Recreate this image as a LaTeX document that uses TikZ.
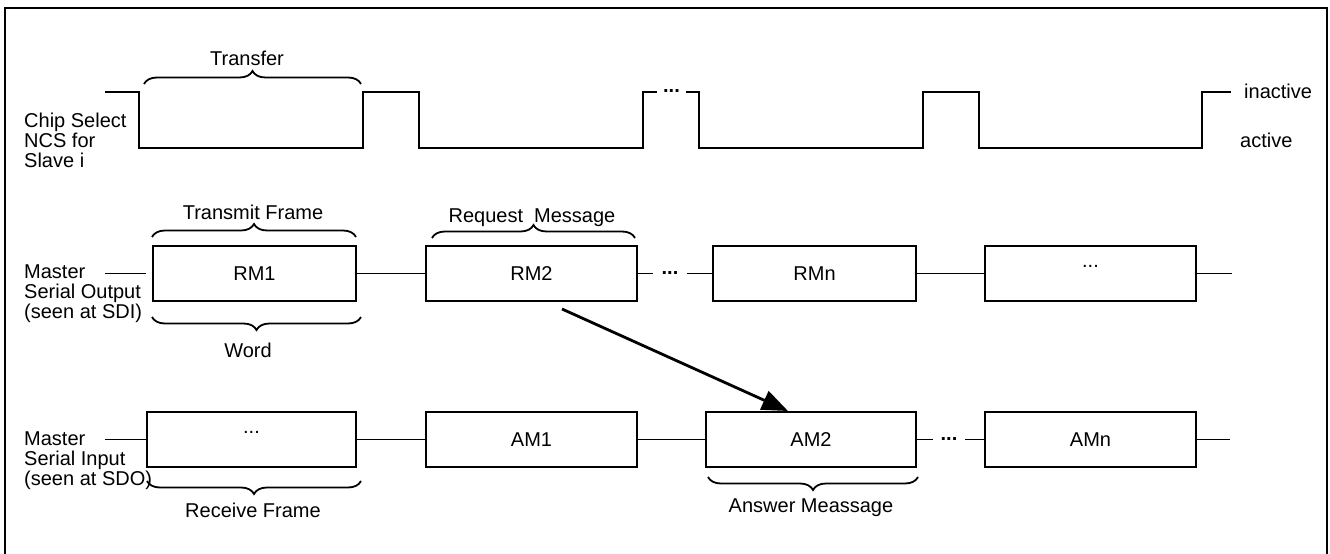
\documentclass[tikz,border=0pt]{standalone}
\usepackage{fontspec}
\setmainfont{Liberation Sans}
\usetikzlibrary{decorations.pathreplacing,arrows.meta}
\begin{document}
\begin{tikzpicture}[x=1bp,y=-1bp,
  every node/.style={font=\fontsize{20bp}{20bp}\selectfont, inner sep=0pt},
  sig/.style={line width=1.9bp},
  conn/.style={line width=1.8bp},
  msgbox/.style={draw, line width=2bp, minimum height=55bp, text height=14bp, text depth=0bp, anchor=center},
  brc/.style={decorate, decoration={brace, amplitude=13bp}, line width=1.8bp},
  brcdown/.style={decorate, decoration={brace, amplitude=13bp, mirror}, line width=1.8bp},
  dotsnode/.style={font=\fontsize{20bp}{20bp}\selectfont\bfseries},
  lbl/.style={anchor=base}
]
\useasboundingbox (0,0) rectangle (1330,554);
% frame
\draw[line width=2bp] (5,560) -- (5,8) -- (1327,8) -- (1327,560);

% ---- chip select ----
\coordinate (cs0) at (105,92);
\coordinate (cs1) at (1231,92);
\node[dotsnode, minimum width=29bp] (csd) at (671.5,91) {...};
\draw[sig] (cs0) -- (139,92) -- (139,148) -- (363,148) -- (363,92) -- (419,92) -- (419,148)
  -- (643,148) -- (643,92) -- (csd.west |- cs0);
\draw[sig] (csd.east |- cs0) -- (699,92) -- (699,148) -- (923,148) -- (923,92) -- (979,92) -- (979,148)
  -- (1202,148) -- (1202,92) -- (cs1);
\node[align=left, anchor=base west] (cslbl) at (24,168) {Chip Select\\NCS for\\Slave i};
\node[anchor=base west] (inact) at (1244,99) {inactive};
\node[anchor=base west] (act) at (1240,148) {active};
\draw[brc] (144,84) -- (361,84);
\node[lbl] (transfer) at (247,66) {Transfer};

% ---- master serial output ----
\node[msgbox, minimum width=203bp] (RM1) at (254.5,273.5) {RM1};
\node[msgbox, minimum width=211bp] (RM2) at (531.5,273.5) {RM2};
\node[msgbox, minimum width=203bp] (RMn) at (814.5,273.5) {RMn};
\node[msgbox, minimum width=211bp] (RMx) at (1090.5,273.5) {\raisebox{13bp}{...}};
\node[dotsnode, minimum width=34bp] (d1) at (670,273.5) {...};
\coordinate (o0) at (105,273.5);
\coordinate (o1) at (1232,273.5);
\draw[conn] (o0) -- ([xshift=-6bp]RM1.west);
\draw[conn] (RM1.east) -- (RM2.west);
\draw[conn] (RM2.east) -- (d1.west);
\draw[conn] (d1.east) -- (RMn.west);
\draw[conn] (RMn.east) -- (RMx.west);
\draw[conn] (RMx.east) -- (o1);
\node[align=left, anchor=base west] (molbl) at (24,318) {Master\\Serial Output\\(seen at SDI)};
\draw[brc] (152,237) -- (356,237);
\node[lbl] (txf) at (253,220) {Transmit Frame};
\draw[brc] (432,238) -- (635,238);
\node[lbl] (reqm) at (532,223) {Request\ \ Message};
\draw[brcdown] (152,317) -- (361,317);
\node[lbl] (word) at (248,357) {Word};

% ---- master serial input ----
\node[msgbox, minimum width=209bp] (R0) at (251.5,439.5) {\raisebox{13bp}{...}};
\node[msgbox, minimum width=211bp] (AM1) at (531.5,439.5) {AM1};
\node[msgbox, minimum width=210bp] (AM2) at (811,439.5) {AM2};
\node[msgbox, minimum width=211bp] (AMn) at (1090.5,439.5) {AMn};
\node[dotsnode, minimum width=32bp] (d2) at (949,439.5) {...};
\coordinate (i0) at (105,439.5);
\coordinate (i1) at (1230,439.5);
\draw[conn] (i0) -- (R0.west);
\draw[conn] (R0.east) -- (AM1.west);
\draw[conn] (AM1.east) -- (AM2.west);
\draw[conn] (AM2.east) -- (d2.west);
\draw[conn] (d2.east) -- (AMn.west);
\draw[conn] (AMn.east) -- (i1);
\node[align=left, anchor=base west] (milbl) at (24,485) {Master\\Serial Input\\(seen at SDO)};
\draw[brcdown] (147,481) -- (361,481);
\node[lbl] (rxf) at (253,517) {Receive Frame};
\draw[brcdown] (708,477) -- (918,477);
\node[lbl] (ansm) at (811,512) {Answer Meassage};

% ---- arrow ----
\draw[line width=2.8bp, -{Triangle[length=26bp,width=20bp]}]
  ([xshift=30.5bp,yshift=-7bp]RM2.south) -- ([xshift=-23bp]AM2.north);
\end{tikzpicture}
\end{document}
